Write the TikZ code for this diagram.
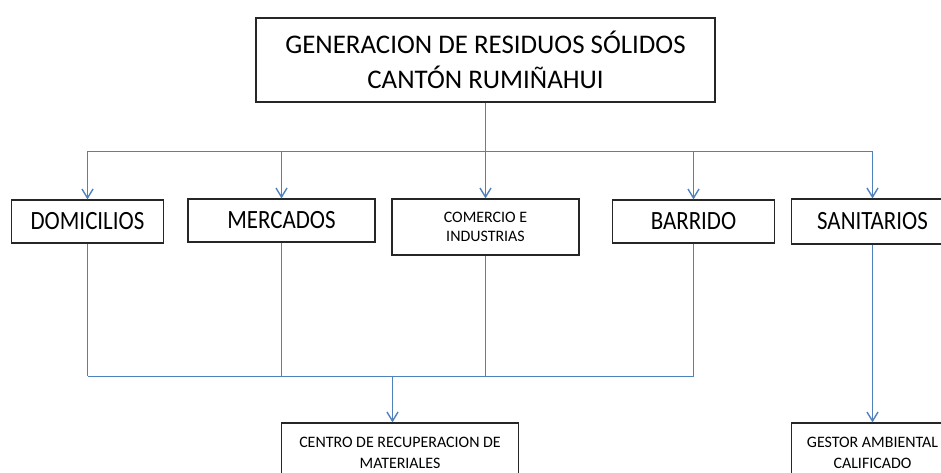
\documentclass[tikz,border=0pt]{standalone}
\usepackage{graphicx}
\usepackage{fontspec}
\setmainfont{Carlito}
\usetikzlibrary{arrows.meta}
\definecolor{azul}{RGB}{79,129,189}
\newcommand{\alto}[1]{\scalebox{1}[1.15]{#1}}
\tikzset{
  caja/.style={draw=black!85, line width=1.2bp, align=center, inner sep=0pt},
  linea/.style={draw=azul, line width=1.4bp},
  flecha/.style={linea, -{Straight Barb[length=9bp,width=11bp]}},
  grande/.style={font=\fontsize{23}{28}\selectfont},
  chica/.style={font=\fontsize{16}{19}\selectfont}
}
\begin{document}
\begin{tikzpicture}[x=1bp,y=1bp]
            \useasboundingbox (0,0) rectangle (941,473);

            % caja principal
            \node[caja, minimum width=459bp, minimum height=84bp, font=\fontsize{27}{35}\selectfont] (gen) at (485.5,413) {GENERACION DE RESIDUOS SÓLIDOS\\CANTÓN RUMIÑAHUI};

            % fuentes de residuos
            \node[caja, grande, minimum width=152bp, minimum height=43bp] (dom) at (87.5,251.5) {\alto{DOMICILIOS}};
            \node[caja, grande, minimum width=187bp, minimum height=43bp] (mer) at (281.5,252.5) {\alto{MERCADOS}};
            \node[caja, chica, minimum width=187bp, minimum height=56bp] (com) at (485.5,246) {COMERCIO E\\INDUSTRIAS};
            \node[caja, grande, minimum width=162bp, minimum height=43bp] (bar) at (693.5,251.5) {\alto{BARRIDO}};
            \node[caja, grande, minimum width=162bp, minimum height=45bp] (san) at (872.5,251.5) {\alto{SANITARIOS}};

            % destinos
            \node[caja, font=\fontsize{16}{21}\selectfont, minimum width=237.5bp, minimum height=60bp] (cen) at (400,20) {CENTRO DE RECUPERACION DE\\MATERIALES};
            \node[caja, font=\fontsize{16}{21}\selectfont, minimum width=162bp, minimum height=60bp] (ges) at (872.5,20) {GESTOR AMBIENTAL\\CALIFICADO};

            % linea de reparto superior
            \coordinate (bus) at (0,321.5);
            \draw[flecha] (gen.south) -- (com.north);
            \draw[linea] (dom.north |- bus) -- (san.north |- bus);
            \foreach \n in {dom,mer,bar,san} {
                \draw[flecha] (\n.north |- bus) -- (\n.north);
            }

            % linea de union inferior
            \coordinate (bus2) at (0,96.5);
            \foreach \n in {dom,mer,com,bar} {
                \draw[linea] (\n.south) -- (\n.south |- bus2);
            }
            \draw[linea] (dom.south |- bus2) -- (bar.south |- bus2);
            \coordinate (union) at (392.5,96.5);
            \draw[flecha] (union) -- (union |- cen.north);
            \draw[flecha] (san.south) -- (ges.north);

        \end{tikzpicture}
\end{document}
